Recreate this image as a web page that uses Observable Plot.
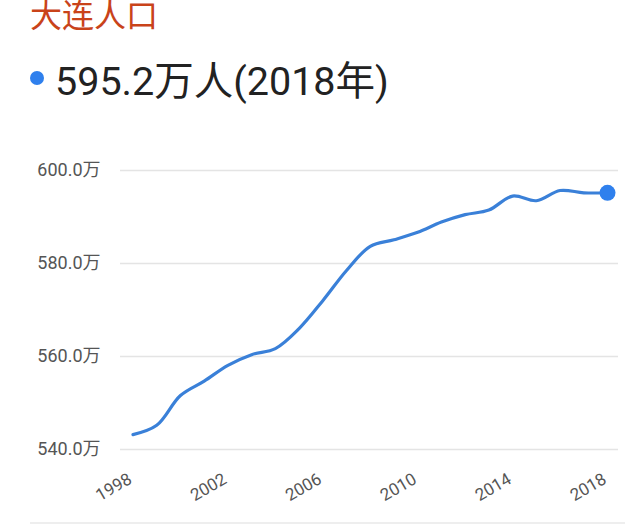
<!DOCTYPE html>
<html><head><meta charset="utf-8">
<script src="https://cdn.jsdelivr.net/npm/d3@7"></script>
<script src="https://cdn.jsdelivr.net/npm/@observablehq/plot@0.6"></script>
<style>
html,body{margin:0;padding:0;background:#fff;}
body{width:640px;height:529px;overflow:hidden;position:relative;font-family:Roboto,"Noto Sans CJK SC",sans-serif;}
#title{position:absolute;left:30px;top:-3px;font-size:32px;line-height:32px;color:#c9431a;font-family:"Noto Sans CJK SC",sans-serif;white-space:nowrap;}
#sub{position:absolute;left:55px;top:62px;font-size:39.5px;line-height:39.5px;color:#222;white-space:nowrap;}
#bullet{position:absolute;left:30px;top:71px;width:14px;height:14px;border-radius:50%;background:#2f80ed;}
#chart{position:absolute;left:0;top:130px;}
#foot{position:absolute;left:30px;top:522px;width:595px;height:0;border-top:2px solid #eeeeee;}
</style>
</head><body>
<div id="title">大连人口</div>
<div id="bullet"></div>
<div id="sub"></div>
<div id="chart"></div>
<div id="foot"></div>
<script>
const years = [1998,1999,2000,2001,2002,2003,2004,2005,2006,2007,2008,2009,2010,2011,2012,2013,2014,2015,2016,2017,2018];
const population = [543.2,545.2,551.6,554.7,558.1,560.4,561.7,566.0,572.0,578.5,583.7,585.1,586.7,588.9,590.5,591.5,594.5,593.5,595.7,595.2,595.2];
const yTicks = [540,560,580,600];
const xTicks = [1998,2002,2006,2010,2014,2018];

const rows = years.map((year, i) => ({year, value: population[i]}));
const latest = rows[rows.length - 1];
document.getElementById("sub").textContent = latest.value.toFixed(1) + "万人(" + latest.year + "年)";

const chart = Plot.plot({
  width: 640,
  height: 393,
  marginTop: 40,
  marginBottom: 74,
  marginLeft: 120,
  marginRight: 22,
  style: {color: "#555", fontSize: "18px", fontFamily: "Roboto, 'Noto Sans CJK SC', sans-serif", background: "#fff"},
  x: {domain: [1998, 2018], insetLeft: 12.5, insetRight: 11, axis: null},
  y: {domain: [540, 600], label: null},
  marks: [
    Plot.ruleY(yTicks, {stroke: "#e4e4e4", strokeWidth: 1.5}),
    Plot.axisY(yTicks, {tickSize: 0, tickPadding: 20, tickFormat: d => d.toFixed(1) + "万", fontSize: 18, label: null}),
    Plot.text(xTicks, {x: d => d, frameAnchor: "bottom", dy: 33, rotate: -30, textAnchor: "end", text: d => String(d), fontSize: 17, fill: "#555"}),
    Plot.line(rows, {x: "year", y: "value", curve: "catmull-rom", stroke: "#3a80d8", strokeWidth: 3.2}),
    Plot.dot([latest], {x: "year", y: "value", r: 8, fill: "#2f80ed", stroke: "none"})
  ]
});
document.getElementById("chart").appendChild(chart);
</script>
</body></html>
